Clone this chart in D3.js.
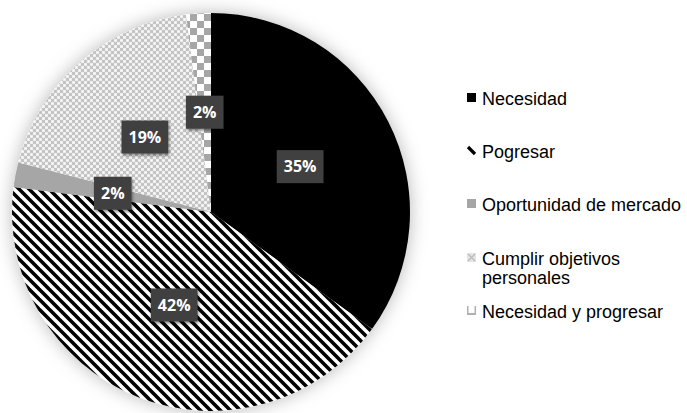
<!DOCTYPE html>
<html>
<head>
<meta charset="utf-8">
<script src="https://cdn.jsdelivr.net/npm/d3@7"></script>
<style>
  html, body { margin: 0; padding: 0; background: #fff; }
  svg { display: block; }
</style>
</head>
<body>
<svg id="chart" width="687" height="413"></svg>
<script>
// Motivos para emprender (porcentaje de respuestas)
const categories = ["Necesidad", "Pogresar", "Oportunidad de mercado", "Cumplir objetivos personales", "Necesidad y progresar"];
const values = [35, 42, 2, 19, 2];
const valueLabels = ["35%", "42%", "2%", "19%", "2%"];
const legendLines = [["Necesidad"], ["Pogresar"], ["Oportunidad de mercado"], ["Cumplir objetivos", "personales"], ["Necesidad y progresar"]];
const fills = ["#000000", "url(#stripes)", "#a6a6a6", "url(#fineCheck)", "url(#bigCheck)"];

const cx = 211, cy = 212, R = 199;

const svg = d3.select("#chart");
const defs = svg.append("defs");

// Patterns are laid out in page coordinates (the slices sit in a translated group)
const toPage = `translate(${-cx},${-cy})`;

// Diagonal black stripes
const stripes = defs.append("pattern").attr("id", "stripes")
  .attr("patternUnits", "userSpaceOnUse").attr("width", 10).attr("height", 10)
  .attr("patternTransform", toPage);
stripes.append("rect").attr("width", 10).attr("height", 10).attr("fill", "#fff");
stripes.selectAll("line").data([[-5, 5, 5, 15], [0, 0, 10, 10], [5, -5, 15, 5]]).join("line")
  .attr("x1", d => d[0]).attr("y1", d => d[1]).attr("x2", d => d[2]).attr("y2", d => d[3])
  .attr("stroke", "#000").attr("stroke-width", 3.5);

// Fine light checker
const fine = defs.append("pattern").attr("id", "fineCheck")
  .attr("patternUnits", "userSpaceOnUse").attr("width", 6).attr("height", 6)
  .attr("patternTransform", toPage);
fine.append("rect").attr("width", 6).attr("height", 6).attr("fill", "#eeeeee");
fine.append("rect").attr("x", 0).attr("y", 0).attr("width", 3).attr("height", 3).attr("fill", "#c4c4c4");
fine.append("rect").attr("x", 3).attr("y", 3).attr("width", 3).attr("height", 3).attr("fill", "#c4c4c4");
fine.append("rect").attr("x", 4).attr("y", 1).attr("width", 1).attr("height", 1).attr("fill", "#fff");
fine.append("rect").attr("x", 1).attr("y", 4).attr("width", 1).attr("height", 1).attr("fill", "#fff");

// Coarse gray/white checker
const big = defs.append("pattern").attr("id", "bigCheck")
  .attr("patternUnits", "userSpaceOnUse").attr("width", 14).attr("height", 14)
  .attr("x", 190).attr("y", 14)
  .attr("patternTransform", toPage);
big.append("rect").attr("width", 14).attr("height", 14).attr("fill", "#fff");
big.append("rect").attr("x", 0).attr("y", 0).attr("width", 7).attr("height", 7).attr("fill", "#a6a6a6");
big.append("rect").attr("x", 7).attr("y", 7).attr("width", 7).attr("height", 7).attr("fill", "#a6a6a6");

// Soft glow around the pie
const glow = defs.append("filter").attr("id", "glow")
  .attr("x", "-20%").attr("y", "-20%").attr("width", "140%").attr("height", "140%");
glow.append("feDropShadow").attr("dx", 0).attr("dy", 0).attr("stdDeviation", 9)
  .attr("flood-color", "#000").attr("flood-opacity", 0.28);

// Small shadow under value boxes
const boxShadow = defs.append("filter").attr("id", "boxShadow")
  .attr("x", "-30%").attr("y", "-30%").attr("width", "160%").attr("height", "160%");
boxShadow.append("feDropShadow").attr("dx", 1).attr("dy", 2).attr("stdDeviation", 1.5)
  .attr("flood-color", "#000").attr("flood-opacity", 0.45);

const pie = d3.pie().sort(null).value(d => d);
const arcs = pie(values);
const arc = d3.arc().innerRadius(0).outerRadius(R);
const labelArc = d3.arc().innerRadius(100).outerRadius(100);

// Slices
svg.append("g")
  .attr("transform", `translate(${cx},${cy})`)
  .attr("filter", "url(#glow)")
  .selectAll("path").data(arcs).join("path")
  .attr("d", arc)
  .attr("fill", (d, i) => fills[i]);

// Value boxes
const lbl = svg.append("g").attr("transform", `translate(${cx},${cy})`);
arcs.forEach((d, i) => {
  const [x, y] = labelArc.centroid(d);
  const grp = lbl.append("g").attr("transform", `translate(${x},${y})`);
  const rect = grp.append("rect").attr("fill", "#404040").attr("filter", "url(#boxShadow)");
  const t = grp.append("text")
    .attr("text-anchor", "middle").attr("dy", "0.36em")
    .attr("font-family", "'Open Sans', sans-serif").attr("font-weight", 700)
    .attr("font-size", 16).attr("fill", "#fff")
    .text(valueLabels[i]);
  const bb = t.node().getBBox();
  const padX = 7, h = 33;
  rect.attr("x", -bb.width / 2 - padX).attr("y", -h / 2)
    .attr("width", bb.width + 2 * padX).attr("height", h);
});

// Legend
const legendY = [105, 158, 211, 265, 318];
const leg = svg.append("g");
categories.forEach((c, i) => {
  const base = legendY[i];
  const mx = 467, my = base - 12, ms = 9;
  const item = leg.append("g");
  if (i === 0) {
    item.append("rect").attr("x", mx).attr("y", my).attr("width", ms).attr("height", ms).attr("fill", "#000");
  } else if (i === 1) {
    item.append("line").attr("x1", mx + 1).attr("y1", my + 1).attr("x2", mx + ms - 1).attr("y2", my + ms - 1)
      .attr("stroke", "#000").attr("stroke-width", 3.2);
  } else if (i === 2) {
    item.append("rect").attr("x", mx).attr("y", my).attr("width", ms).attr("height", ms).attr("fill", "#a6a6a6");
  } else if (i === 3) {
    item.append("rect").attr("x", mx).attr("y", my).attr("width", ms).attr("height", ms).attr("fill", "#e4e4e4");
    item.append("path").attr("d", `M${mx + 1},${my + 1}L${mx + ms - 1},${my + ms - 1}M${mx + ms - 1},${my + 1}L${mx + 1},${my + ms - 1}`)
      .attr("stroke", "#bdbdbd").attr("stroke-width", 1.4);
  } else {
    item.append("rect").attr("x", mx).attr("y", my).attr("width", ms).attr("height", ms).attr("fill", "#b0b0b0");
    item.append("rect").attr("x", mx + 1.5).attr("y", my).attr("width", ms - 3).attr("height", ms - 2).attr("fill", "#fff");
  }
  const txt = item.append("text")
    .attr("font-family", "'Liberation Sans', Arial, sans-serif")
    .attr("font-size", 18).attr("fill", "#000");
  legendLines[i].forEach((line, j) => {
    txt.append("tspan").attr("x", 482).attr("y", base + j * 19).text(line);
  });
});
</script>
</body>
</html>
